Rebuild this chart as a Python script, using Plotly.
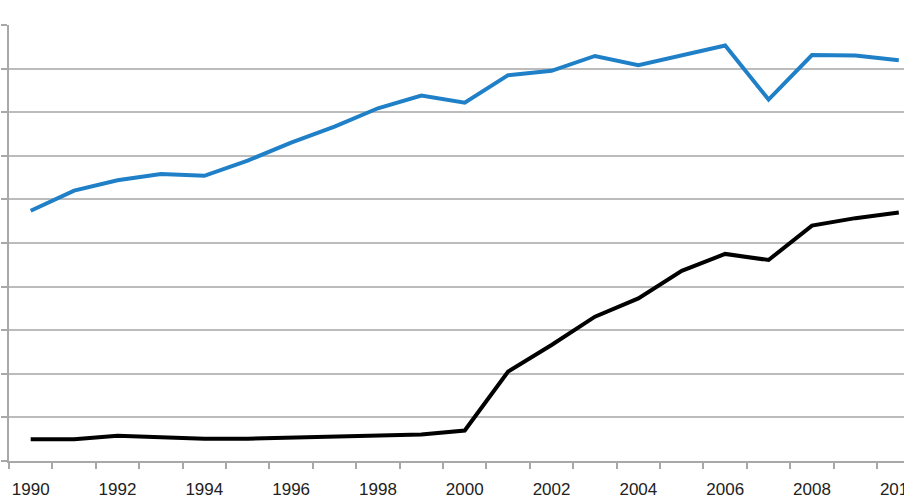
import plotly.graph_objects as go

years = list(range(1990, 2011))
blue_values = [5.74, 6.20, 6.44, 6.58, 6.54, 6.89, 7.30, 7.67, 8.09, 8.38, 8.22,
               8.85, 8.95, 9.29, 9.08, 9.31, 9.53, 8.29, 9.31, 9.30, 9.19]
black_values = [0.50, 0.50, 0.58, 0.55, 0.51, 0.51, 0.53, 0.56, 0.58, 0.61, 0.70,
                2.05, 2.66, 3.31, 3.73, 4.36, 4.75, 4.61, 5.40, 5.57, 5.70]
label_years = list(range(1990, 2011, 2))
boundaries = [y - 0.5 for y in range(1990, 2012)]

fig = go.Figure()
fig.add_trace(go.Scatter(x=years, y=blue_values, mode="lines",
                         line=dict(color="#1f80c8", width=4), showlegend=False))
fig.add_trace(go.Scatter(x=years, y=black_values, mode="lines",
                         line=dict(color="#000000", width=4), showlegend=False))

fig.update_layout(
    width=904, height=499,
    margin=dict(l=9, r=0, t=25, b=38, autoexpand=False),
    paper_bgcolor="white", plot_bgcolor="white",
    font=dict(family="Liberation Sans, Arial", size=17, color="#222222"),
)
fig.update_xaxes(
    range=[1989.5, 2010.12], automargin=False,
    tickvals=label_years, ticktext=[str(y) for y in label_years],
    ticks="", ticklabelstandoff=12, ticklabeloverflow="allow",
    minor=dict(tickvals=boundaries, ticks="outside", ticklen=6,
               tickcolor="#a8a8a8", tickwidth=1.5, showgrid=False),
    showgrid=False, zeroline=False,
    showline=True, linecolor="#a8a8a8", linewidth=1.5,
)
fig.update_yaxes(
    range=[0, 10], dtick=1, automargin=False,
    showticklabels=False,
    ticks="outside", ticklen=6, tickcolor="#a8a8a8", tickwidth=1.5,
    showgrid=True, gridcolor="#bcbcbc", gridwidth=1.5,
    zeroline=False,
    showline=True, linecolor="#a8a8a8", linewidth=1.5,
)
fig.write_html("out.html")
